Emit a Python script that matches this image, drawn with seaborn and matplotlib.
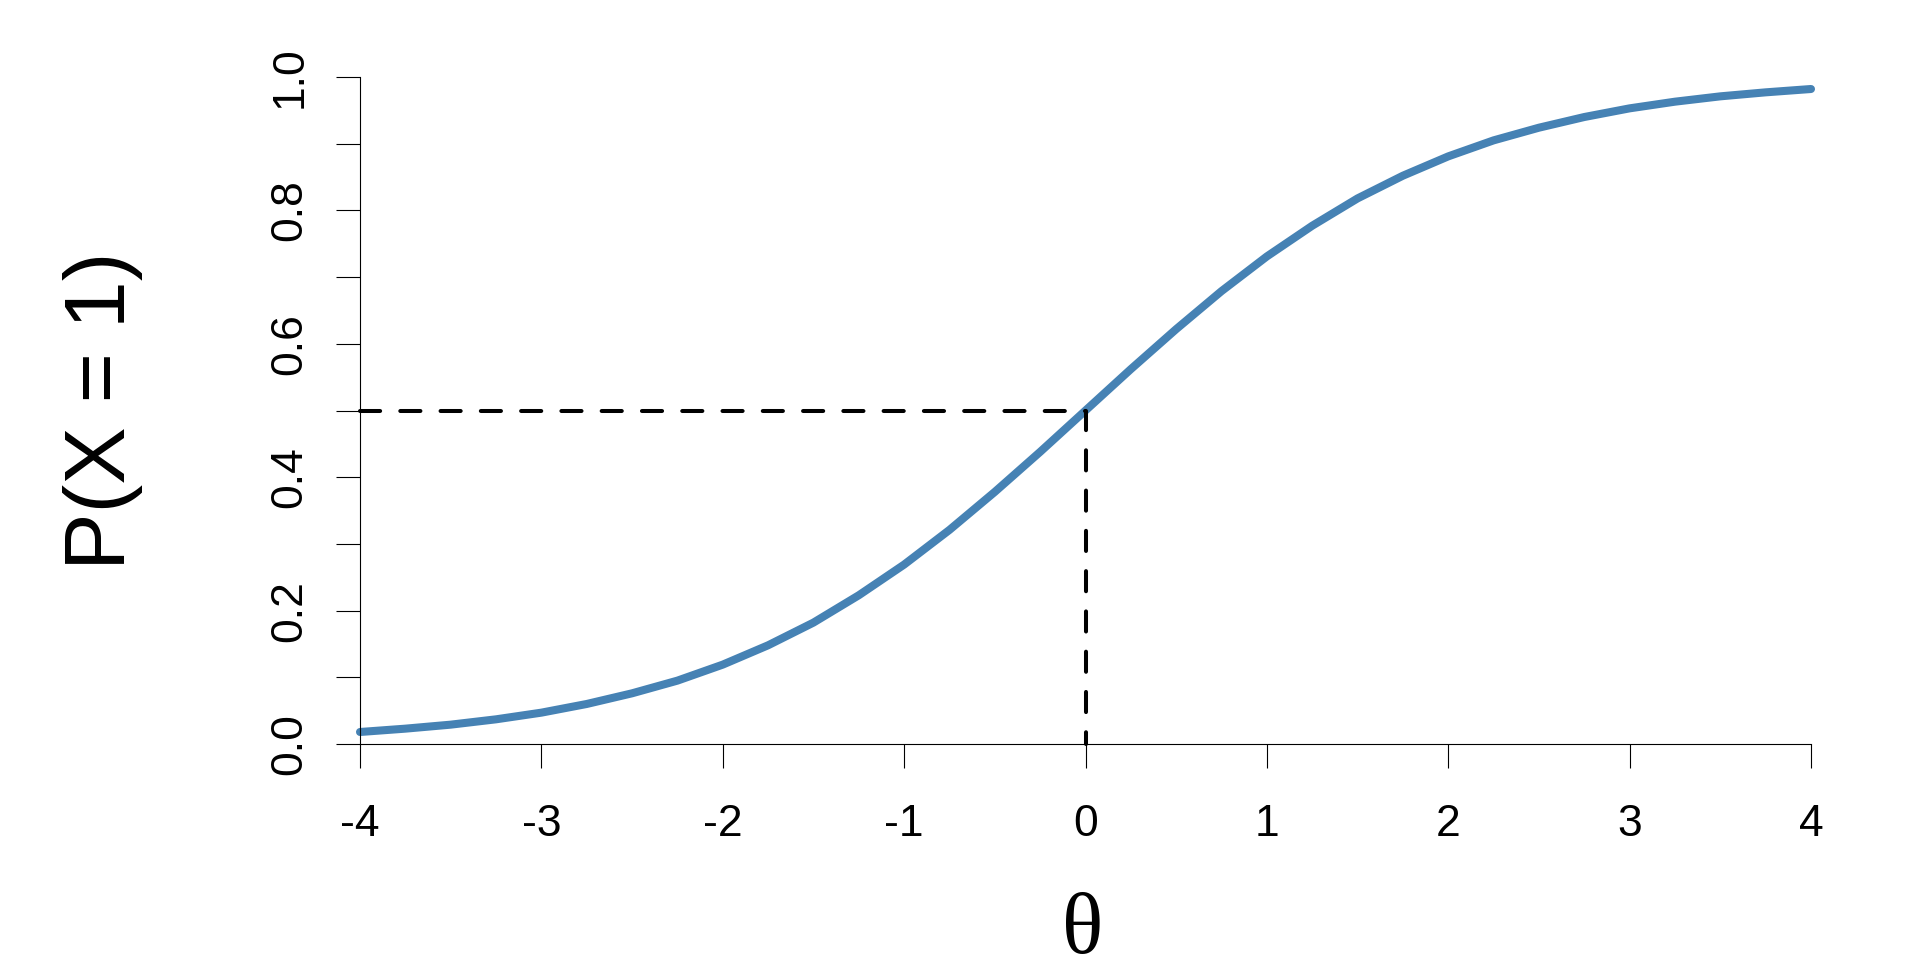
import matplotlib
matplotlib.use("Agg")
import matplotlib.pyplot as plt
import pandas as pd
import seaborn as sns

# item characteristic curve
theta = [-4.0, -3.75, -3.5, -3.25, -3.0, -2.75, -2.5, -2.25, -2.0, -1.75, -1.5,
         -1.25, -1.0, -0.75, -0.5, -0.25, 0.0, 0.25, 0.5, 0.75, 1.0, 1.25, 1.5,
         1.75, 2.0, 2.25, 2.5, 2.75, 3.0, 3.25, 3.5, 3.75, 4.0]
prob = [0.018, 0.023, 0.029, 0.037, 0.047, 0.060, 0.076, 0.095, 0.119, 0.148,
        0.182, 0.223, 0.269, 0.321, 0.378, 0.438, 0.500, 0.562, 0.622, 0.679,
        0.731, 0.777, 0.818, 0.852, 0.881, 0.905, 0.924, 0.940, 0.953, 0.963,
        0.971, 0.977, 0.982]

# dashed guide at P = 0.5
guide_x = [-4.0, 0.0, 0.0]
guide_y = [0.5, 0.5, 0.0]

x_ticks = [-4, -3, -2, -1, 0, 1, 2, 3, 4]
x_ticklabels = ["-4", "-3", "-2", "-1", "0", "1", "2", "3", "4"]
y_ticks = [0.0, 0.1, 0.2, 0.3, 0.4, 0.5, 0.6, 0.7, 0.8, 0.9, 1.0]
y_ticklabels = ["0.0", "", "0.2", "", "0.4", "", "0.6", "", "0.8", "", "1.0"]

sns.set_style("ticks")
plt.rcParams["font.family"] = ["Liberation Sans", "DejaVu Sans"]
plt.rcParams["axes.unicode_minus"] = False
plt.rcParams["text.color"] = "black"

W, H = 1920, 973
fig = plt.figure(figsize=(W / 100, H / 100), dpi=100)
ax = fig.add_axes([360 / W, 1 - 744 / H, (1811 - 360) / W, (744 - 77) / H])

df = pd.DataFrame({"theta": theta, "prob": prob})
sns.lineplot(data=df, x="theta", y="prob", ax=ax, color="#4682B4",
             linewidth=5.8, solid_capstyle="round")
ax.plot(guide_x, guide_y, color="black", linewidth=2.9,
        dashes=(5, 5), dash_capstyle="round")
for line in ax.lines:
    line.set_clip_on(False)

ax.set_xlim(-4, 4)
ax.set_ylim(0, 1)
sns.despine(ax=ax)
for side in ("left", "bottom"):
    ax.spines[side].set_linewidth(0.8)
    ax.spines[side].set_color("black")

ax.set_xticks(x_ticks)
ax.set_xticklabels(x_ticklabels, fontsize=32, color="black")
ax.set_yticks(y_ticks)
ax.set_yticklabels(y_ticklabels, fontsize=32, rotation=90, color="black",
                   rotation_mode="anchor", ha="center", va="baseline")
ax.tick_params(axis="x", length=17.5, width=0.8, pad=26, colors="black")
ax.tick_params(axis="y", length=17.5, width=0.8, pad=24.5, colors="black")
ax.set_xlabel("")
ax.set_ylabel("")

fig.text(125 / W, 1 - 411 / H, "P(X = 1)", fontsize=62, rotation=90,
         rotation_mode="anchor", ha="center", va="baseline", color="black")
fig.text(1083 / W, 1 - 953 / H, "θ", fontsize=62, ha="center", va="baseline",
         color="black", family=["Liberation Serif", "DejaVu Serif"])

fig.savefig("out.png", dpi=100, facecolor="white")
